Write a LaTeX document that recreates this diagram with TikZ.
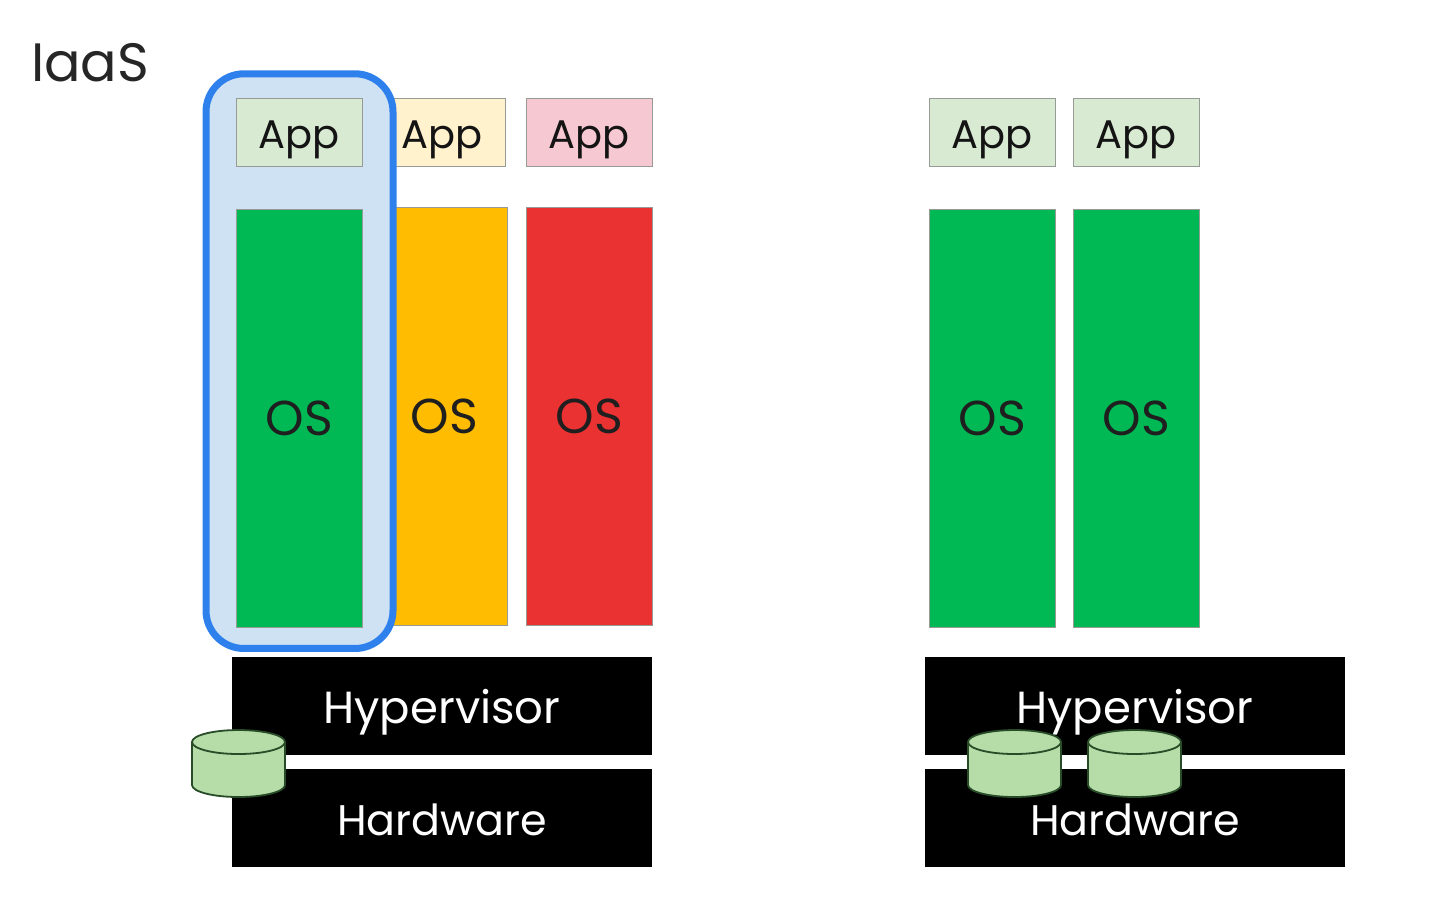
\documentclass[tikz,border=0pt]{standalone}
\usepackage{fontspec}
\setmainfont{Poppins}
\usepackage{xcolor}
\usepackage{tikz}
\usetikzlibrary{shapes.geometric,positioning,fit,backgrounds}
\definecolor{osgreen}{RGB}{0,184,84}
\definecolor{osyellow}{RGB}{255,188,0}
\definecolor{osred}{RGB}{234,50,50}
\definecolor{appgreen}{RGB}{217,234,211}
\definecolor{appyellow}{RGB}{255,242,204}
\definecolor{apppink}{RGB}{246,200,210}
\definecolor{edgegray}{RGB}{150,155,150}
\definecolor{pickblue}{RGB}{46,128,236}
\definecolor{pickfill}{RGB}{207,226,243}
\definecolor{diskgreen}{RGB}{182,221,168}
\definecolor{diskedge}{RGB}{40,75,40}

\begin{document}
\begin{tikzpicture}[
  x=0.5pt, y=-0.5pt,
  appbox/.style={rectangle, draw=edgegray, line width=0.5pt, outer sep=0pt, inner sep=0pt,
                 text height=16.5pt, text depth=0pt, text=black!92,
                 minimum width=63pt, minimum height=34.2pt, font=\fontsize{20}{24}\selectfont},
  osbox/.style={rectangle, draw=edgegray, line width=0.4pt, outer sep=0pt, inner sep=0pt,
                text height=18pt, text depth=0pt, text=black!88,
                minimum width=63pt, minimum height=209pt, font=\fontsize{24.5}{29}\selectfont},
  layerbox/.style={rectangle, fill=black, text=white, outer sep=0pt, inner sep=0pt,
                   text height=18pt, text depth=0pt,
                   minimum width=210pt, minimum height=49pt, font=\fontsize{22.5}{26}\selectfont},
  hardbox/.style={layerbox, font=\fontsize{21.4}{26}\selectfont},
  disk/.style={cylinder, shape border rotate=90, draw=diskedge, line width=0.9pt,
               cylinder uses custom fill, cylinder body fill=diskgreen, cylinder end fill=diskgreen,
               aspect=1, outer sep=0pt, inner sep=6pt, minimum width=46.5pt, minimum height=33.5pt},
  pick/.style={rectangle, draw=pickblue, fill=pickfill, line width=3.5pt, rounded corners=19pt,
               inner xsep=15.25pt, inner ysep=11.5pt, yshift=0.75pt}
]
  \useasboundingbox (0,0) rectangle (1447,908);

  \node[font=\fontsize{27}{32}\selectfont, text=black!85] (title) at (90,63) {IaaS};

  % left stack, the two columns under the highlight
  \begin{scope}[on background layer]
    \node[appbox, fill=appyellow] (lappb) at (442.5,132.5) {App};
    \node[appbox, fill=apppink, right=10.5pt of lappb] (lappc) {App};
    \node[osbox, fill=osyellow, below=20.15pt of lappb, xshift=1pt] (losb) {OS};
    \node[osbox, fill=osred, below=20.15pt of lappc] (losc) {OS};
  \end{scope}

  \node[appbox, fill=appgreen, left=8.5pt of lappb] (lappa) {App};
  \node[osbox, fill=osgreen, below=21.15pt of lappa] (losa) {OS};

  \begin{scope}[on background layer]
    \node[pick, fit=(lappa)(losa)] (lpick) {};
  \end{scope}

  \node[layerbox] (lhyper) at (442,706) {Hypervisor};
  \node[hardbox, below=7pt of lhyper] (lhard) {Hardware};
  \node[disk] (ldisk) at (238.5,774) {};

  % right stack
  \node[appbox, fill=appgreen] (rappa) at (992.5,132.5) {App};
  \node[appbox, fill=appgreen, right=9pt of rappa] (rappb) {App};
  \node[osbox, fill=osgreen, below=21.15pt of rappa] (rosa) {OS};
  \node[osbox, fill=osgreen, below=21.15pt of rappb] (rosb) {OS};

  \node[layerbox] (rhyper) at (1135,706) {Hypervisor};
  \node[hardbox, below=7pt of rhyper] (rhard) {Hardware};
  \node[disk] (rdiska) at (1014.5,774) {};
  \node[disk, right=13.5pt of rdiska] (rdiskb) {};
\end{tikzpicture}
\end{document}
